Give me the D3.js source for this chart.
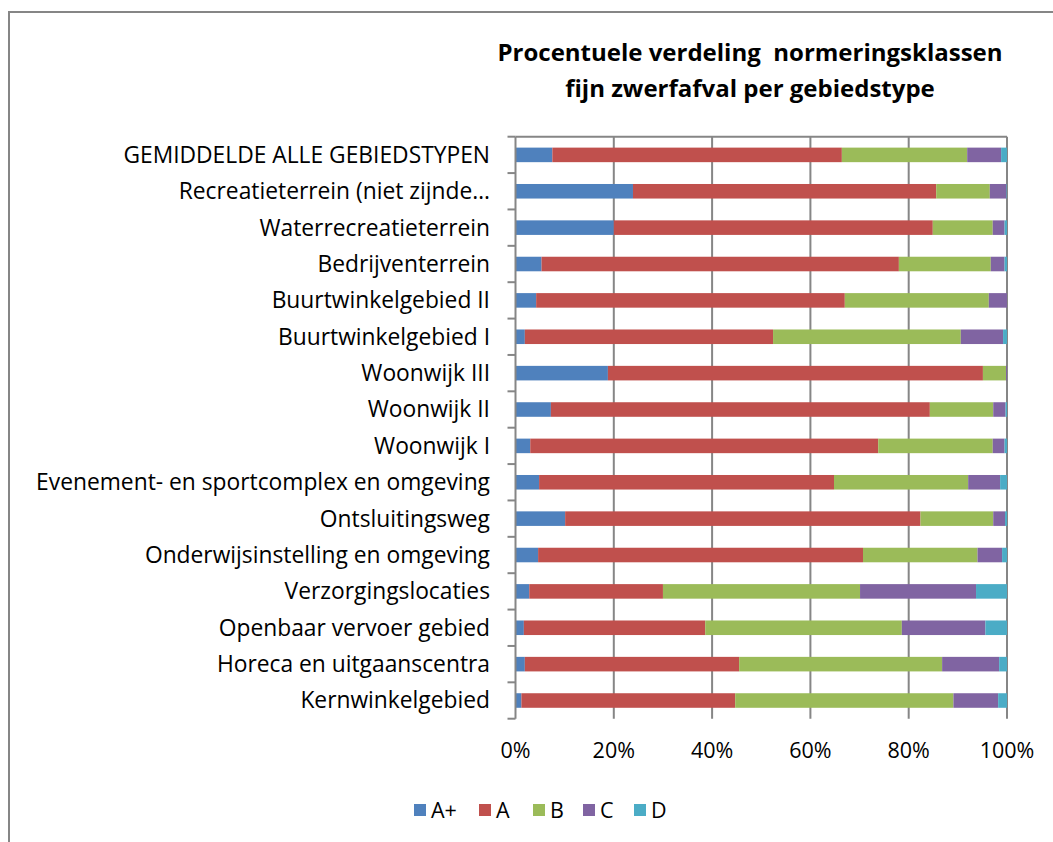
<!DOCTYPE html>
<html>
<head>
<meta charset="utf-8">
<script src="https://cdn.jsdelivr.net/npm/d3@7"></script>
<style>
  html, body { margin: 0; padding: 0; background: #fff; }
  svg { display: block; }
  text { font-family: "Open Sans", "Noto Sans", sans-serif; fill: #000; white-space: pre; }
</style>
</head>
<body>
<svg id="chart" width="1053" height="842"></svg>
<script>
const categories = [
  "GEMIDDELDE ALLE GEBIEDSTYPEN",
  "Recreatieterrein (niet zijnde…",
  "Waterrecreatieterrein",
  "Bedrijventerrein",
  "Buurtwinkelgebied II",
  "Buurtwinkelgebied I",
  "Woonwijk III",
  "Woonwijk II",
  "Woonwijk I",
  "Evenement- en sportcomplex en omgeving",
  "Ontsluitingsweg",
  "Onderwijsinstelling en omgeving",
  "Verzorgingslocaties",
  "Openbaar vervoer gebied",
  "Horeca en uitgaanscentra",
  "Kernwinkelgebied"
];
const seriesNames = ["A+", "A", "B", "C", "D"];
const valuesAplus = [7.5, 23.9, 20.0, 5.3, 4.2, 1.9, 18.8, 7.2, 3.0, 4.8, 10.1, 4.6, 2.8, 1.7, 1.9, 1.2];
const valuesA     = [58.9, 61.7, 64.9, 72.7, 62.8, 50.5, 76.3, 77.1, 70.8, 60.0, 72.3, 66.1, 27.2, 36.9, 43.6, 43.5];
const valuesB     = [25.5, 10.9, 12.2, 18.7, 29.3, 38.2, 4.7, 12.9, 23.3, 27.3, 14.8, 23.3, 40.1, 40.0, 41.3, 44.4];
const valuesC     = [6.9, 3.4, 2.4, 2.8, 3.7, 8.6, 0.2, 2.5, 2.4, 6.5, 2.4, 5.0, 23.6, 17.0, 11.6, 9.1];
const valuesD     = [1.2, 0.1, 0.5, 0.5, 0.0, 0.8, 0.0, 0.3, 0.5, 1.4, 0.4, 1.0, 6.3, 4.4, 1.6, 1.8];
const xTicks = [0, 20, 40, 60, 80, 100];
const titleLines = ["Procentuele verdeling  normeringsklassen", "fijn zwerfafval per gebiedstype"];
const colors = ["#4F81BD", "#C0504D", "#9BBB59", "#8064A2", "#4BACC6"];

const seriesValues = [valuesAplus, valuesA, valuesB, valuesC, valuesD];
const table = categories.map((c, i) => {
  const row = { cat: c };
  seriesNames.forEach((s, j) => row[s] = seriesValues[j][i]);
  return row;
});

const svg = d3.select("#chart");
const gridColor = "#868686";

// outer chart border
svg.append("rect").attr("x", 9).attr("y", 12).attr("width", 1100).attr("height", 900)
  .attr("fill", "none").attr("stroke", gridColor).attr("stroke-width", 2);

const x = d3.scaleLinear().domain([0, 100]).range([515.5, 1007]);
const y = d3.scaleBand().domain(categories).range([136.7, 718.7]).paddingInner(0.6).paddingOuter(0.3);

// gridlines
svg.append("g").selectAll("line").data(xTicks.slice(1)).join("line")
  .attr("x1", d => x(d)).attr("x2", d => x(d))
  .attr("y1", y.range()[0]).attr("y2", y.range()[1])
  .attr("stroke", gridColor).attr("stroke-width", 2);
// top frame line
svg.append("line").attr("x1", x(0)).attr("x2", x(100)).attr("y1", 136.7).attr("y2", 136.7)
  .attr("stroke", gridColor).attr("stroke-width", 2);

// stacked bars
const stack = d3.stack().keys(seriesNames)(table);
svg.append("g").selectAll("g").data(stack).join("g")
  .attr("fill", (d, i) => colors[i])
  .selectAll("rect").data(d => d).join("rect")
  .attr("x", d => x(d[0]))
  .attr("width", d => Math.max(0, x(d[1]) - x(d[0])))
  .attr("y", d => y(d.data.cat))
  .attr("height", y.bandwidth());

// y axis line and ticks at band boundaries
const step = y.step();
const y0 = y.range()[0];
svg.append("line").attr("x1", x(0)).attr("x2", x(0)).attr("y1", y0).attr("y2", y.range()[1])
  .attr("stroke", gridColor).attr("stroke-width", 2);
svg.append("g").selectAll("line").data(d3.range(categories.length + 1)).join("line")
  .attr("x1", x(0) - 8).attr("x2", x(0))
  .attr("y1", i => y0 + i * step).attr("y2", i => y0 + i * step)
  .attr("stroke", gridColor).attr("stroke-width", 2);

// category labels
svg.append("g").selectAll("text").data(categories).join("text")
  .attr("x", 490)
  .attr("y", d => y(d) + y.bandwidth() / 2)
  .attr("dy", "0.35em")
  .attr("text-anchor", "end")
  .attr("font-size", 22.8)
  .text(d => d);

// x tick labels
svg.append("g").selectAll("text").data(xTicks).join("text")
  .attr("x", d => x(d))
  .attr("y", 758)
  .attr("text-anchor", "middle")
  .attr("font-size", 21.5)
  .text(d => d + "%");

// title
svg.append("g").selectAll("text").data(titleLines).join("text")
  .attr("x", 750)
  .attr("y", (d, i) => 61 + i * 36)
  .attr("text-anchor", "middle")
  .attr("font-size", 24)
  .attr("font-weight", "bold")
  .text(d => d);

// legend
const legendX = [414, 479, 533, 583, 634];
const lg = svg.append("g").selectAll("g").data(seriesNames).join("g")
  .attr("transform", (d, i) => `translate(${legendX[i]},810)`);
lg.append("rect").attr("x", 0).attr("y", -6).attr("width", 12).attr("height", 12)
  .attr("fill", (d, i) => colors[i]);
lg.append("text").attr("x", 17).attr("y", 0).attr("dy", "0.35em")
  .attr("font-size", 21.5).text(d => d);
</script>
</body>
</html>
